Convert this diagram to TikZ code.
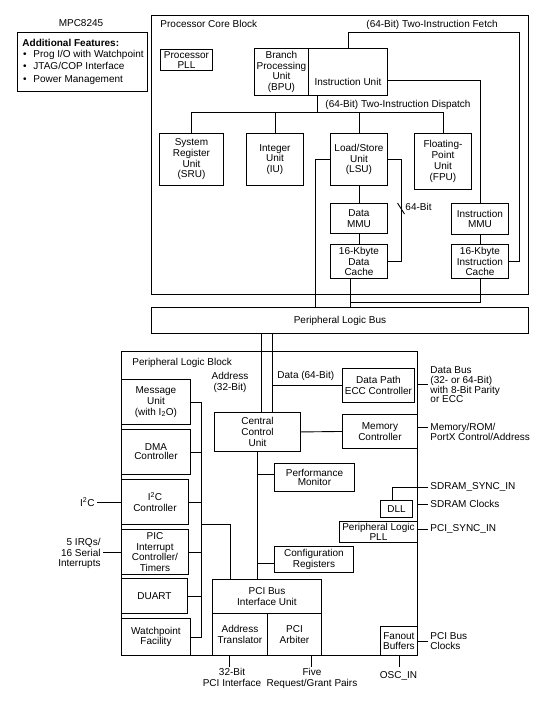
\documentclass[tikz,border=0pt]{standalone}
\usepackage{fontspec}
\setmainfont{Liberation Sans}
\newcommand\fs{\fontsize{10}{10.7}\selectfont}
\newcommand\blk[6]{\node[box, anchor=north west, minimum width=#4pt, minimum height=#5pt] (#1) at (#2,#3) {#6};}
\begin{document}
\begin{tikzpicture}[x=1pt, y=-1pt, line width=0.9pt,
  box/.style={draw, align=center, inner sep=0pt, font=\fs},
  lbl/.style={inner sep=0pt, font=\fs},
  clbl/.style={inner ysep=0pt, inner xsep=2pt, font=\fs}]
\useasboundingbox (0,0) rectangle (552,704);

% ---------- top left ----------
\node[lbl, anchor=base] (mpc) at (81,27) {MPC8245};
\blk{feat}{17}{32}{130}{59}{}
\node[lbl, anchor=base west, font=\fs\bfseries] (featt) at (22,46.6) {Additional Features:};
\node[lbl, anchor=base] (b1) at (25,57.6) {\textbullet};
\node[lbl, anchor=base west] (f1) at (33,57.6) {Prog I/O with Watchpoint};
\node[lbl, anchor=base] (b2) at (25,69.6) {\textbullet};
\node[lbl, anchor=base west] (f2) at (33,69.6) {JTAG/COP Interface};
\node[lbl, anchor=base] (b3) at (25,82.6) {\textbullet};
\node[lbl, anchor=base west] (f3) at (33,82.6) {Power Management};

% ---------- processor core ----------
\blk{core}{151}{15}{377}{279}{}
\node[lbl, anchor=base west] (coret) at (160,27.5) {Processor Core Block};
\node[lbl, anchor=base west] (fetcht) at (366,27.5) {(64-Bit) Two-Instruction Fetch};
\node[lbl, anchor=base west] (dispt) at (325,107.5) {(64-Bit) Two-Instruction Dispatch};

\blk{ppll}{160}{49}{52}{21}{Processor\\PLL}
\blk{bpu}{254}{48}{54}{47}{Branch\\Processing\\Unit\\(BPU)}
\blk{instu}{308}{48}{79}{47}{}
\node[lbl] (instut) at ([yshift=-9.5pt]instu.center) {Instruction Unit};
\blk{sru}{159}{133}{64}{52}{System\\Register\\Unit\\(SRU)}
\blk{intu}{246}{133}{57}{52}{Integer\\Unit\\(IU)}
\blk{lsu}{330}{133}{57}{52}{Load/Store\\Unit\\(LSU)}
\blk{fpu}{414}{133}{57}{56}{Floating-\\Point\\Unit\\(FPU)}
\blk{dmmu}{330}{203}{57}{30}{Data\\MMU}
\blk{dcache}{330}{244}{57}{34}{16-Kbyte\\Data\\Cache}
\blk{immu}{451}{203}{57}{31}{Instruction\\MMU}
\blk{icache}{451}{244}{57}{34}{16-Kbyte\\Instruction\\Cache}

% fetch path
\draw ([xshift=40pt]instu.north west) -- ++(0,-16) -| ([xshift=11pt]icache.east) -- (icache.east);
% instruction unit to IMMU
\draw ([yshift=-8.5pt]instu.east) -| (immu.north);
\draw (immu.south) -- (icache.north);
% dispatch
\coordinate (disp) at ([xshift=9pt,yshift=-17pt]instu.south west);
\draw ([xshift=9pt]instu.south west) -- (disp);
\draw (sru.north) -- (sru.north |- disp) -- (fpu.north |- disp) -- (fpu.north);
\draw (intu.north) -- (intu.north |- disp);
\draw (lsu.north) -- (lsu.north |- disp);
% LSU paths
\draw (lsu.south) -- (dmmu.north);
\draw (dmmu.south) -- (dcache.north);
\draw (lsu.east) -- ++(14,0) |- (dcache.east);
\coordinate (slash) at (401,208.5);
\draw ([shift={(-3.5,-5.5)}]slash) -- ([shift={(3.5,5.5)}]slash);
\node[lbl, anchor=base west] (bit64) at (405,210.6) {64-Bit};

% ---------- peripheral logic bus ----------
\blk{plbus}{151}{307}{377}{26}{Peripheral Logic Bus}
\draw (lsu.west) -- ++(-15,0) coordinate (lw) -- (lw |- plbus.north);
\coordinate (dcb) at ([xshift=-9pt]dcache.south);
\draw (dcb) -- (dcb |- plbus.north);
\draw (icache.south) -- ++(0,24) -| (dcb);

% ---------- peripheral logic block ----------
\blk{plb}{121}{351}{296}{304}{}
\node[lbl, anchor=base west] (plbt) at (132,365.6) {Peripheral Logic Block};
\node[lbl, anchor=north, align=center, font=\fontsize{10}{11}\selectfont] (addrt) at (230,372.2) {Address\\(32-Bit)};
\node[lbl, anchor=base west] (datat) at (277,378.6) {Data (64-Bit)};

\blk{msg}{121}{379}{69}{45}{Message\\Unit\\(with I\textsubscript{2}O)}
\node[box, anchor=north west, minimum width=69pt, minimum height=45pt, font=\fontsize{10}{9.2}\selectfont] (dma) at (121,429) {DMA\\Controller};
\blk{i2c}{121}{479}{67}{45}{I\textsuperscript{2}C\\Controller}
\blk{pic}{121}{529}{67}{45}{PIC\\Interrupt\\Controller/\\Timers}
\blk{duart}{121}{578}{66}{35}{DUART}
\blk{watch}{121}{618}{69}{37}{Watchpoint\\Facility}

\blk{ccu}{214}{412}{86}{39}{Central\\Control\\Unit}
\blk{ecc}{342}{368}{72}{34}{Data Path\\ECC Controller}
\blk{memc}{342}{414}{75}{34}{Memory\\Controller}
\node[box, anchor=north west, minimum width=80pt, minimum height=28pt, font=\fontsize{10}{9.3}\selectfont] (perf) at (274,463) {Performance\\Monitor};
\blk{dll}{380}{500}{32}{17}{DLL}
\node[box, anchor=north west, minimum width=78pt, minimum height=21pt, font=\fontsize{10}{10}\selectfont] (ppll2) at (339,521) {Peripheral Logic\\PLL};
\blk{config}{274}{546}{79}{26}{Configuration\\Registers}
\blk{pciu}{212}{579}{109}{34}{PCI Bus\\Interface Unit}
\blk{atrans}{212}{613}{55}{42}{Address\\Translator}
\blk{parb}{267}{613}{54}{42}{PCI\\Arbiter}
\node[box, anchor=north west, minimum width=37pt, minimum height=29pt, font=\fontsize{10}{10}\selectfont] (fanout) at (380,626) {Fanout\\Buffers};

% bus lines from peripheral logic bus
\coordinate (atop) at ([xshift=47pt]ccu.north west);
\coordinate (dtop) at ([xshift=58pt]ccu.north west);
\draw (atop |- plbus.south) -- (atop);
\draw (dtop |- plbus.south) -- (dtop);
\draw (dtop |- ecc.west) -- (ecc.west);
\draw (ccu.east) -- (memc.west);
% CCU bottom
\coordinate (cb) at ([xshift=43pt]ccu.south west);
\draw (cb) -- (cb |- pciu.north);
\coordinate (pfw) at ([yshift=3pt]perf.west);
\draw (cb |- pfw) -- (pfw);
\coordinate (cfw) at ([yshift=-4pt]config.west);
\draw (cb |- cfw) -- (cfw);
% left bus
\coordinate (lb) at ([xshift=11pt]msg.east);
\draw (msg.east) -- (lb) -- (lb |- watch.east) -- (watch.east);
\draw (dma.east) -- (lb |- dma.east);
\draw (i2c.east) -- (lb |- i2c.east);
\draw (pic.east) -- (lb |- pic.east);
\draw (duart.east) -- (lb |- duart.east);
\draw (lb |- i2c.south) -| ([xshift=18pt]pciu.north west);

% ---------- external labels ----------
\node[clbl, anchor=base east] (i2clbl) at (97,506.6) {I\textsuperscript{2}C};
\draw (i2c.west) -- (i2c.west -| i2clbl.east);
\node[clbl, anchor=north east, align=right, font=\fontsize{10}{10.5}\selectfont] (piclbl) at (103,538.2) {5 IRQs/\\16 Serial\\Interrupts};
\draw (pic.west) -- (pic.west -| piclbl.east);

\node[clbl, anchor=north west, align=left, font=\fontsize{10}{9.8}\selectfont] (dbus) at (428,366.2) {Data Bus\\(32- or 64-Bit)\\with 8-Bit Parity\\or ECC};
\draw (dbus.west -| plb.east) -- (dbus.west);
\node[clbl, anchor=north west, align=left, font=\fontsize{10}{10}\selectfont] (memlbl) at (428,423.2) {Memory/ROM/\\PortX Control/Address};
\coordinate (ml) at ([yshift=-3.8pt]memlbl.north west);
\draw (ml -| plb.east) -- (ml);
\node[clbl, anchor=base west] (ssync) at (428,489.6) {SDRAM\_SYNC\_IN};
\draw (ssync.west) -| ([xshift=12pt]dll.north west);
\node[clbl, anchor=base west] (sclk) at (428,507.6) {SDRAM Clocks};
\draw (sclk.west -| plb.east) -- (sclk.west);
\node[clbl, anchor=base west] (psync) at (428,531.6) {PCI\_SYNC\_IN};
\draw (psync.west -| plb.east) -- (psync.west);
\node[clbl, anchor=north west, align=left, font=\fontsize{10}{10}\selectfont] (pclk) at (428,632.2) {PCI Bus\\Clocks};
\draw (fanout.east) -- (fanout.east -| pclk.west);

\node[lbl, inner ysep=1.2pt, anchor=north, align=center, font=\fontsize{10}{11}\selectfont] (pcilbl) at (232,667) {32-Bit\\PCI Interface};
\coordinate (at1) at ([xshift=17pt]atrans.south west);
\draw (at1) -- (at1 |- pcilbl.north);
\node[lbl, inner ysep=1.2pt, anchor=north, align=center, font=\fontsize{10}{11}\selectfont] (fivelbl) at (312,667) {Five\\Request/Grant Pairs};
\coordinate (pa1) at ([xshift=44pt]parb.south west);
\draw (pa1) -- (pa1 |- fivelbl.north);
\node[lbl, inner ysep=4pt, anchor=base] (osclbl) at (398.5,678.6) {OSC\_IN};
\draw (fanout.south) -- (fanout.south |- osclbl.north);
\end{tikzpicture}
\end{document}
